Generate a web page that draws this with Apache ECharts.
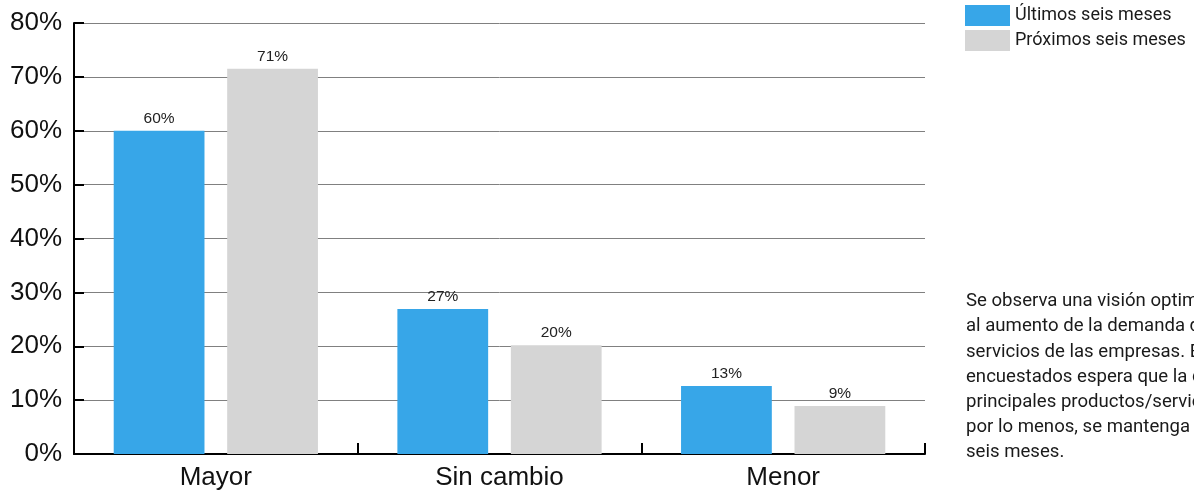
<!DOCTYPE html>
<html>
<head>
<meta charset="utf-8">
<script src="https://cdn.jsdelivr.net/npm/echarts@6/dist/echarts.min.js"></script>
<style>
html,body{margin:0;padding:0;background:#fff;}
#chart{width:1194px;height:495px;}
</style>
</head>
<body>
<div id="chart"></div>
<script>
const categories = ['Mayor', 'Sin cambio', 'Menor'];
const seriesNames = ['Últimos seis meses', 'Próximos seis meses'];
const lastSix = [60, 26.9, 12.6];
const nextSix = [71.5, 20.2, 8.9];
const lastSixLabels = ['60%', '27%', '13%'];
const nextSixLabels = ['71%', '20%', '9%'];
const yTicks = [0, 10, 20, 30, 40, 50, 60, 70, 80];
const noteLines = [
  'Se observa una visión optimista respecto',
  'al aumento de la demanda de productos y',
  'servicios de las empresas. El 71% de los',
  'encuestados espera que la demanda de sus',
  'principales productos/servicios aumente o,',
  'por lo menos, se mantenga en los próximos',
  'seis meses.'
];

const chart = echarts.init(document.getElementById('chart'), null, {renderer: 'canvas'});
const axisFont = 'Liberation Sans, Arial, sans-serif';
const textFont = 'Roboto, sans-serif';

chart.setOption({
  animation: false,
  backgroundColor: '#ffffff',
  grid: {left: 74, right: 269, top: 23, bottom: 41, containLabel: false},
  legend: {
    data: seriesNames,
    orient: 'vertical',
    left: 965, top: 5,
    padding: 0,
    itemWidth: 45, itemHeight: 21, itemGap: 4,
    icon: 'rect',
    textStyle: {fontFamily: textFont, fontSize: 18, color: '#1a1a1a', padding: [4,0,0,0]}
  },
  xAxis: {
    type: 'category',
    data: categories,
    axisLine: {show: true, lineStyle: {color: '#000', width: 2}},
    axisTick: {show: true, inside: true, length: 11, lineStyle: {color: '#000', width: 2}},
    axisLabel: {fontFamily: axisFont, fontSize: 26, color: '#111', margin: 11}
  },
  yAxis: {
    type: 'value',
    min: yTicks[0], max: yTicks[yTicks.length - 1], interval: 10,
    axisLine: {show: true, lineStyle: {color: '#000', width: 2}},
    axisTick: {show: true, inside: true, length: 10, lineStyle: {color: '#000', width: 2}},
    axisLabel: {fontFamily: axisFont, fontSize: 26, color: '#111', margin: 12, formatter: '{value}%'},
    splitLine: {show: true, lineStyle: {color: '#808080', width: 1}}
  },
  series: [
    {
      name: seriesNames[0], type: 'bar',
      data: lastSix,
      barWidth: '32%', barGap: '25%',
      itemStyle: {color: '#37a6e8'},
      label: {show: true, position: 'top', distance: 4, fontFamily: axisFont, fontSize: 15.5, color: '#222',
        formatter: p => lastSixLabels[p.dataIndex]}
    },
    {
      name: seriesNames[1], type: 'bar',
      data: nextSix,
      barWidth: '32%', barGap: '25%',
      itemStyle: {color: '#d5d5d5'},
      label: {show: true, position: 'top', distance: 4, fontFamily: axisFont, fontSize: 15.5, color: '#222',
        formatter: p => nextSixLabels[p.dataIndex]}
    }
  ],
  graphic: [{
    type: 'text',
    left: 966, top: 289,
    style: {
      text: noteLines.join('\n'),
      font: '18.6px ' + textFont,
      lineHeight: 25.2,
      fill: '#1a1a1a'
    }
  }]
});
</script>
</body>
</html>
